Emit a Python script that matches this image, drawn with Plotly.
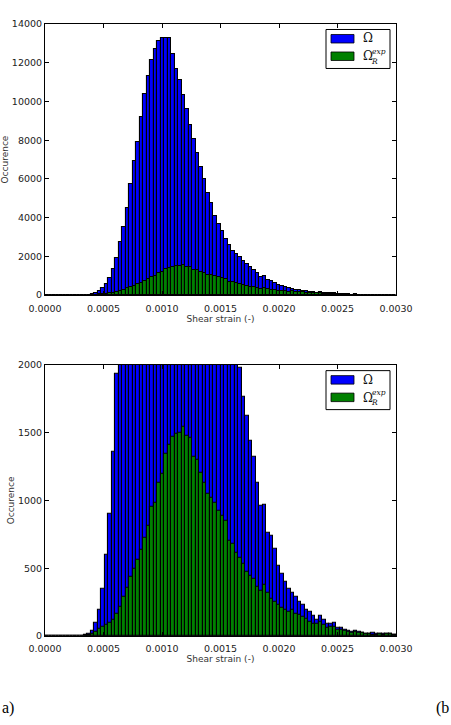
import numpy as np
import plotly.graph_objects as go
from plotly.subplots import make_subplots

# ---------------- data ----------------
bin_edges = np.linspace(0.0, 0.003, 101)          # 100 histogram bins
bin_centers = (bin_edges[:-1] + bin_edges[1:]) / 2
bin_width = bin_edges[1] - bin_edges[0]

omega = [0, 0, 0, 0, 0, 0, 0, 1, 1, 2,
         4, 8, 17, 35, 96, 190, 350, 600, 900, 1356,
         1930, 2730, 3540, 4510, 5730, 6910, 7885, 9195, 10380, 11317,
         12134, 12700, 13120, 13300, 13270, 13300, 12450, 11700, 11100, 10340,
         9600, 8790, 8050, 7330, 6640, 5990, 5270, 4750, 4100, 3680,
         3290, 2900, 2600, 2300, 2120, 1975, 1767, 1624, 1440, 1319,
         1133, 963, 970, 759, 738, 640, 520, 460, 400, 350,
         320, 290, 255, 230, 195, 180, 150, 120, 150, 118,
         88, 92, 95, 62, 57, 47, 40, 34, 36, 28,
         24, 18, 16, 20, 13, 15, 17, 14, 17, 8]

omega_r_exp = [0, 0, 0, 0, 0, 0, 0, 0, 0, 0,
               0, 2, 7, 17, 34, 51, 65, 80, 96, 120,
               162, 218, 292, 358, 439, 496, 562, 636, 722, 813,
               955, 985, 1128, 1196, 1344, 1410, 1467, 1491, 1501, 1545,
               1478, 1463, 1325, 1300, 1201, 1128, 1050, 1020, 985, 920,
               890, 850, 705, 680, 614, 578, 535, 470, 446, 420,
               360, 330, 378, 317, 275, 250, 230, 210, 190, 175,
               190, 165, 155, 140, 125, 105, 92, 88, 105, 85,
               60, 66, 70, 47, 42, 36, 30, 26, 30, 24,
               20, 16, 14, 12, 12, 14, 12, 13, 15, 7]

x_ticks = [0.0, 0.0005, 0.0010, 0.0015, 0.0020, 0.0025, 0.0030]
x_tick_labels = ["0.0000", "0.0005", "0.0010", "0.0015", "0.0020", "0.0025", "0.0030"]
top_y_ticks = [0, 2000, 4000, 6000, 8000, 10000, 12000, 14000]
top_y_labels = ["0", "2000", "4000", "6000", "8000", "10000", "12000", "14000"]
bot_y_ticks = [0, 500, 1000, 1500, 2000]
bot_y_labels = ["0", "500", "1000", "1500", "2000"]

BLUE = "#0000ff"
GREEN = "#008000"

# ---------------- layout geometry (px) ----------------
W, H = 451, 725
L, R = 45, 396
TOP_T, TOP_B = 24, 295.3
BOT_T, BOT_B = 365, 636.3
plot_h = BOT_B - TOP_T

fig = make_subplots(rows=2, cols=1, vertical_spacing=0)

for row in (1, 2):
    fig.add_trace(go.Bar(x=bin_centers, y=omega, width=bin_width,
                         marker=dict(color=BLUE, line=dict(color="black", width=1.1)),
                         showlegend=False, name="Ω"), row=row, col=1)
    fig.add_trace(go.Bar(x=bin_centers, y=omega_r_exp, width=bin_width,
                         marker=dict(color=GREEN, line=dict(color="black", width=1.1)),
                         showlegend=False, name="Ω_R^exp"), row=row, col=1)

tickfont = dict(family="DejaVu Sans", size=9.5, color="#222")
titlefont = dict(family="DejaVu Sans", size=9, color="#333")

axis_common = dict(showline=True, linecolor="black", linewidth=1, mirror="allticks",
                   ticks="inside", ticklen=4, tickcolor="black", showgrid=False,
                   zeroline=False, tickfont=tickfont, automargin=False)

fig.update_xaxes(range=[0, 0.003], tickvals=x_ticks, ticktext=x_tick_labels,
                 ticklabelstandoff=4,
                 title=dict(text="Shear strain (-)", font=titlefont, standoff=0),
                 **axis_common)
fig.update_yaxes(title=dict(text="Occurence", font=titlefont, standoff=1), **axis_common)
fig.update_yaxes(range=[0, 14000], tickvals=top_y_ticks, ticktext=top_y_labels, row=1, col=1)
fig.update_yaxes(range=[0, 2000], tickvals=bot_y_ticks, ticktext=bot_y_labels, row=2, col=1)

def py2paper(py):
    return (BOT_B - py) / plot_h

fig.update_layout(
    yaxis=dict(domain=[py2paper(TOP_B), 1.0]),
    yaxis2=dict(domain=[0.0, py2paper(BOT_T)]),
    xaxis=dict(domain=[0, 1]), xaxis2=dict(domain=[0, 1]),
)

# ---------------- legends drawn by hand (matplotlib look) ----------------
shapes = []
annotations = []

def xd(px):
    return (px - L) / (R - L)

def add_legend(axis_top, axis_bottom, xref, yref, box_top):
    h = axis_bottom - axis_top
    def yd(py):
        return (axis_bottom - py) / h
    shapes.append(dict(type="rect", xref=xref, yref=yref,
                       x0=xd(326), x1=xd(390), y0=yd(box_top), y1=yd(box_top + 39),
                       line=dict(color="black", width=1), fillcolor="white", layer="above"))
    shapes.append(dict(type="rect", xref=xref, yref=yref,
                       x0=xd(331), x1=xd(354), y0=yd(box_top + 5), y1=yd(box_top + 13.5),
                       line=dict(color="black", width=0.8), fillcolor=BLUE, layer="above"))
    shapes.append(dict(type="rect", xref=xref, yref=yref,
                       x0=xd(331), x1=xd(354), y0=yd(box_top + 22.5), y1=yd(box_top + 31),
                       line=dict(color="black", width=0.8), fillcolor=GREEN, layer="above"))
    serif = "DejaVu Serif"
    annotations.append(dict(xref=xref, yref=yref, x=xd(361), y=yd(box_top + 9),
                            text="Ω", showarrow=False, xanchor="left", yanchor="middle",
                            font=dict(family=serif, size=12, color="#111")))
    annotations.append(dict(xref=xref, yref=yref, x=xd(361), y=yd(box_top + 27),
                            text="Ω", showarrow=False, xanchor="left", yanchor="middle",
                            font=dict(family=serif, size=12, color="#111")))
    annotations.append(dict(xref=xref, yref=yref, x=xd(369.5), y=yd(box_top + 27),
                            text="<i>exp</i><br><i>R</i>", showarrow=False,
                            xanchor="left", yanchor="middle", align="left", borderpad=0,
                            font=dict(family=serif, size=7.5, color="#111")))

add_legend(TOP_T, TOP_B, "x domain", "y domain", 29.5)
add_legend(BOT_T, BOT_B, "x2 domain", "y2 domain", 370.8)

# panel labels from the surrounding document
annotations.append(dict(xref="paper", yref="paper", x=xd(0), y=py2paper(708),
                        text="a)", showarrow=False, xanchor="left", yanchor="middle",
                        font=dict(family="Liberation Serif", size=16, color="black")))
annotations.append(dict(xref="paper", yref="paper", x=xd(451), y=py2paper(708),
                        text="(b", showarrow=False, xanchor="right", yanchor="middle",
                        font=dict(family="Liberation Serif", size=16, color="black")))

fig.update_layout(
    width=W, height=H,
    margin=dict(l=L, r=W - R, t=TOP_T, b=H - BOT_B, pad=0),
    barmode="overlay", bargap=0,
    paper_bgcolor="white", plot_bgcolor="white",
    shapes=shapes, annotations=annotations,
    showlegend=False,
)

fig.write_html("out.html")
